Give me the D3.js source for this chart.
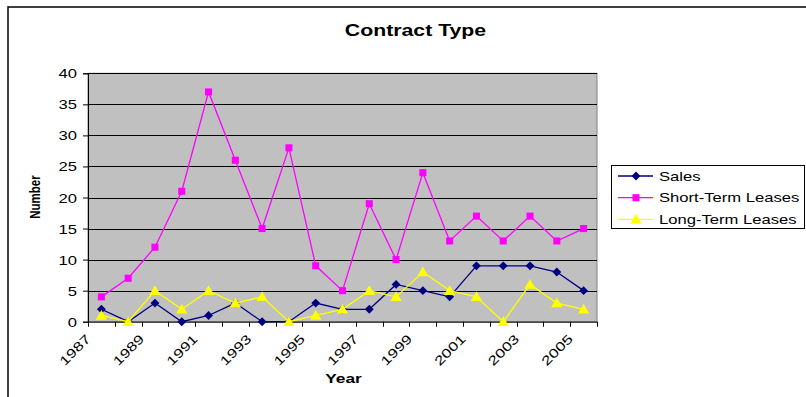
<!DOCTYPE html>
<html>
<head>
<meta charset="utf-8">
<script src="https://cdn.jsdelivr.net/npm/d3@7"></script>
<style>
  html, body { margin: 0; padding: 0; background: #fff; }
  svg { display: block; font-family: "Liberation Sans", Arial, sans-serif; }
</style>
</head>
<body>
<svg id="chart" width="806" height="397"></svg>
<script>
const years = ["1987","1988","1989","1990","1991","1992","1993","1994","1995","1996","1997","1998","1999","2000","2001","2002","2003","2004","2005"];
const yearLabels = ["1987","1989","1991","1993","1995","1997","1999","2001","2003","2005"];
const sales = [2,0,3,0,1,3,0,0,3,2,2,6,5,4,9,9,9,8,5];
const shortTerm = [4,7,12,21,37,26,15,28,9,5,19,10,24,13,17,13,17,13,15];
const longTerm = [1,0,5,2,5,3,4,0,1,2,5,4,8,5,4,0,6,3,2];
const yTicks = [0,5,10,15,20,25,30,35,40];
const seriesNames = ["Sales","Short-Term Leases","Long-Term Leases"];

const SX = 1.33; // horizontal stretch of the original rendering
const svg = d3.select("#chart");
const W = 806, H = 397;
const plot = {left: 88, right: 597, top: 73.3, bottom: 321.7};

// chart area border
svg.append("rect").attr("x", 8).attr("y", 7).attr("width", W + 10).attr("height", H + 10)
  .attr("fill", "#fff").attr("stroke", "#000").attr("stroke-width", 1.5);

const x = d3.scaleBand().domain(years).range([plot.left, plot.right]).padding(0);
const y = d3.scaleLinear().domain([0, 40]).range([plot.bottom, plot.top]);

// plot area
svg.append("rect").attr("x", plot.left).attr("y", plot.top)
  .attr("width", plot.right - plot.left).attr("height", plot.bottom - plot.top)
  .attr("fill", "#C0C0C0").attr("stroke", "#808080").attr("stroke-width", 1);

// gridlines
svg.append("g").selectAll("line").data(yTicks.filter(d => d > 0)).join("line")
  .attr("x1", plot.left).attr("x2", plot.right)
  .attr("y1", d => Math.round(y(d)) + 0.5).attr("y2", d => Math.round(y(d)) + 0.5)
  .attr("stroke", "#000").attr("stroke-width", 1);

// y axis
const yAxis = svg.append("g").attr("transform", `translate(${plot.left},0)`)
  .call(d3.axisLeft(y).tickValues(yTicks).tickSize(5).tickPadding(6));
yAxis.select(".domain").attr("stroke", "#000");
yAxis.selectAll(".tick line").attr("stroke", "#000");
yAxis.selectAll(".tick text").each(function() {
  const t = d3.select(this);
  const xx = +t.attr("x");
  t.attr("x", null).attr("dy", null)
   .attr("transform", `translate(${xx},4.5) scale(${SX},1)`)
   .attr("font-size", 12.5).attr("fill", "#000")
   .attr("font-family", "Liberation Sans, Arial, sans-serif");
});

// x axis
const xAxis = svg.append("g").attr("transform", `translate(0,${plot.bottom})`);
xAxis.append("line").attr("x1", plot.left).attr("x2", plot.right)
  .attr("y1", 0.5).attr("y2", 0.5).attr("stroke", "#000");
const bounds = d3.range(years.length + 1).map(i => plot.left + i * x.bandwidth());
xAxis.selectAll("line.tk").data(bounds).join("line").attr("class", "tk")
  .attr("x1", d => Math.round(d) + 0.5).attr("x2", d => Math.round(d) + 0.5)
  .attr("y1", 0).attr("y2", 5).attr("stroke", "#000");
xAxis.selectAll("text").data(yearLabels).join("text")
  .attr("transform", d => `translate(${x(d) + x.bandwidth() / 2 - 10},${18}) rotate(-45) scale(${SX},1)`)
  .attr("text-anchor", "end").attr("font-size", 12.8).attr("fill", "#000")
  .text(d => d);

// lines
const line = d3.line().x((d, i) => x(years[i]) + x.bandwidth() / 2).y(d => y(d));
const colors = ["#000080", "#FF00FF", "#FFFF00"];
const data = [sales, shortTerm, longTerm];

const markerPath = [
  d3.symbol().type(d3.symbolDiamond2).size(50)(),
  d3.symbol().type(d3.symbolSquare).size(50)(),
  d3.symbol().type(d3.symbolTriangle).size(55)()
];

data.forEach((vals, k) => {
  svg.append("path").datum(vals).attr("d", line)
    .attr("fill", "none").attr("stroke", colors[k]).attr("stroke-width", 1.3);
  svg.append("g").selectAll("path").data(vals).join("path")
    .attr("d", markerPath[k])
    .attr("transform", (d, i) => `translate(${x(years[i]) + x.bandwidth() / 2},${y(d) + (k === 2 ? 1 : 0)})`)
    .attr("fill", colors[k]);
});

// title
svg.append("text").attr("transform", `translate(415.5,36) scale(${SX},1)`)
  .attr("text-anchor", "middle").attr("font-size", 16).attr("font-weight", "bold")
  .text("Contract Type");

// axis titles
svg.append("text").attr("transform", `translate(343.5,383) scale(${SX},1)`)
  .attr("text-anchor", "middle").attr("font-size", 13).attr("font-weight", "bold")
  .text("Year");
svg.append("text").attr("transform", `translate(40,197) scale(${SX},1) rotate(-90)`)
  .attr("text-anchor", "middle").attr("font-size", 11.5).attr("font-weight", "bold")
  .text("Number");

// legend
const lg = svg.append("g");
lg.append("rect").attr("x", 611.5).attr("y", 165.5).attr("width", 193).attr("height", 63)
  .attr("fill", "#fff").attr("stroke", "#000").attr("stroke-width", 1);
const ly = [176, 197.7, 219.3];
seriesNames.forEach((name, k) => {
  lg.append("line").attr("x1", 618).attr("x2", 653).attr("y1", ly[k]).attr("y2", ly[k])
    .attr("stroke", colors[k]).attr("stroke-width", 1.3);
  lg.append("path").attr("d", markerPath[k])
    .attr("transform", `translate(636,${ly[k] + (k === 2 ? 1 : 0)})`).attr("fill", colors[k]);
  lg.append("text").attr("transform", `translate(659,${ly[k] + 4.5}) scale(${SX},1)`)
    .attr("font-size", 12.5).text(name);
});
</script>
</body>
</html>
